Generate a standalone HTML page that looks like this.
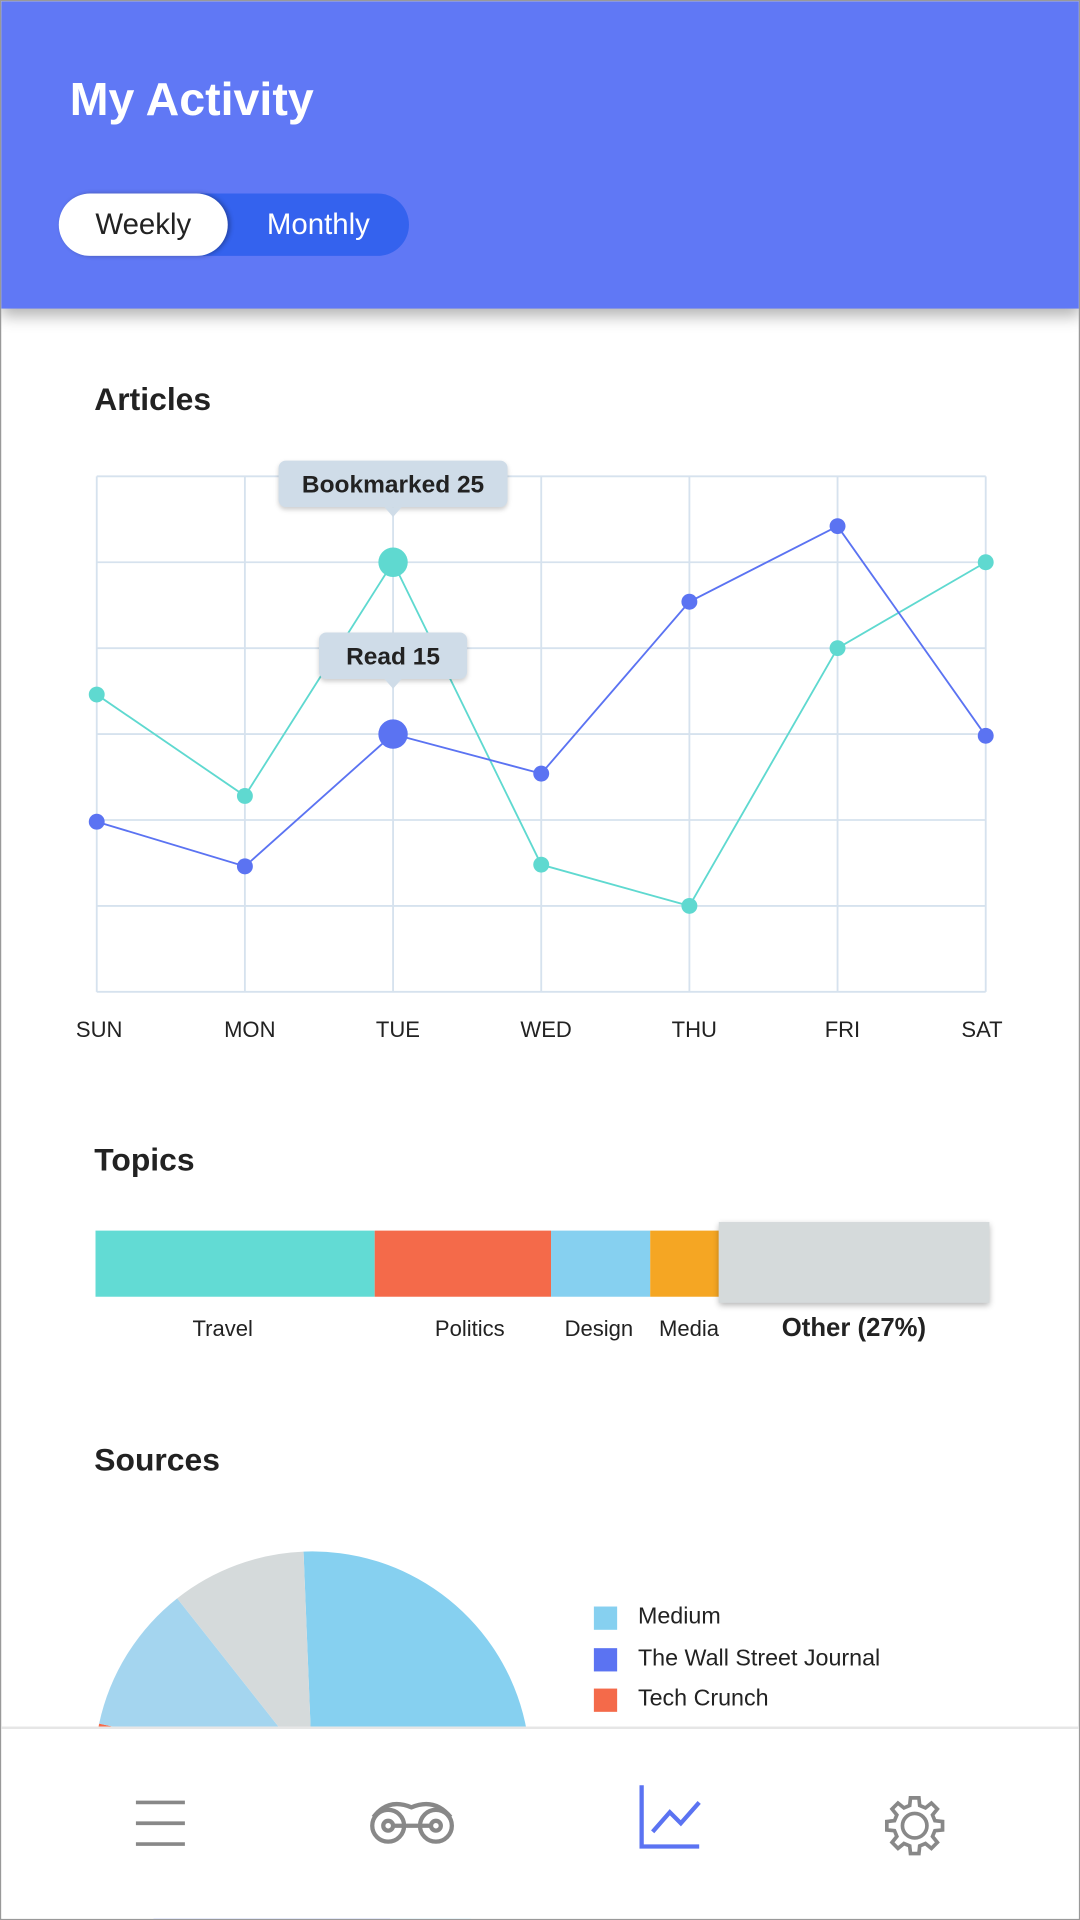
<!DOCTYPE html>
<html><head><meta charset="utf-8"><style>
html,body{margin:0;padding:0;width:1080px;height:1920px;overflow:hidden;background:#fff;font-family:"Liberation Sans",sans-serif}
#wrap{position:absolute;left:0;top:0;width:882px;height:1568px;transform:scale(1.22449);transform-origin:0 0;background:#fff;overflow:hidden;box-sizing:border-box;border:1px solid #999}
.hdr{position:absolute;left:0;top:0;width:882px;height:251px;background:#6078f5;box-shadow:0 6px 12px rgba(0,0,0,.3);z-index:2}
.title{position:absolute;left:56px;top:60px;color:#fff;font-size:38px;font-weight:bold}
.tog{position:absolute;left:47px;top:157px;width:286px;height:51px;border-radius:26px;background:#3462ee}
.tog .on{position:absolute;left:0;top:0;width:138px;height:51px;border-radius:26px;background:#fff;color:#222;font-size:24px;line-height:51px;text-align:center;box-shadow:2px 0 4px rgba(0,0,0,.3)}
.tog .off{position:absolute;left:138px;top:0;width:148px;height:51px;color:#fff;font-size:24px;line-height:51px;text-align:center}
.h2{position:absolute;left:76px;font-size:26px;color:#222;font-weight:bold}
.lbl{position:absolute;font-size:18px;color:#222;transform:translateX(-50%);white-space:nowrap}
.nav{position:absolute;left:0;top:1409px;width:882px;height:160px;background:#fff;border-top:2px solid #e6e6e6;z-index:3}
</style></head><body>
<div id="wrap">
<div class="hdr">
 <div class="title">My Activity</div>
 <div class="tog">
  <div class="on">Weekly</div>
  <div class="off">Monthly</div>
 </div>
</div>
<div class="h2" style="top:310px">Articles</div>
<svg id="lc" style="position:absolute;left:0;top:0" width="882" height="880"></svg>
<div class="h2" style="top:931px">Topics</div>
<div id="topics"></div>
<div class="h2" style="top:1176px">Sources</div>
<svg id="pie" style="position:absolute;left:0;top:0" width="882" height="1568"></svg>
<div id="legend"></div>
<div class="nav">
 <svg width="882" height="160">
  <g stroke="#888" stroke-width="3"><line x1="110" y1="60" x2="150" y2="60"/><line x1="110" y1="77" x2="150" y2="77"/><line x1="110" y1="94" x2="150" y2="94"/></g>
  <g stroke="#888" stroke-width="3.5" fill="none"><circle cx="316" cy="79" r="13"/><circle cx="355" cy="79" r="13"/><circle cx="316" cy="79" r="4"/><circle cx="355" cy="79" r="4"/><line x1="321" y1="79" x2="350" y2="79"/><path d="M304 72 Q316 56 335 64 Q354 56 367 72"/></g>
  <g stroke="#5b73f2" stroke-width="3.5" fill="none"><path d="M523 46 V96 H570"/><path d="M532 84 L546 68 L555 77 L570 60"/></g>
  <g stroke="#888" stroke-width="3" fill="none"><circle cx="746" cy="79" r="10"/><path id="gear"/></g>
 </svg>
</div>
</div>
<script>
const days=["SUN","MON","TUE","WED","THU","FRI","SAT"];
const bookmarked=[17.3,11.4,25,7.4,5,20,25];
const read=[9.9,7.3,15,12.7,22.7,27.1,14.9];
const yMax=30, yStep=5;
const topicNames=["Travel","Politics","Design","Media","Other (27%)"];
const topicValues=[31.2,19.7,11.1,7.7,30.3];
const sourceNames=["Medium","The Wall Street Journal","Tech Crunch","Other Light","Other"];
const sourceValues=[43,22,14,11,10];
const NS="http://www.w3.org/2000/svg";
function mk(p,t,a){const e=document.createElementNS(NS,t);for(const k in a)e.setAttribute(k,a[k]);p.appendChild(e);return e;}
const X0=78,X1=804,Y0=809,Y1=388;
const xs=i=>X0+(X1-X0)*i/(days.length-1);
const ys=v=>Y0-(Y0-Y1)*v/yMax;
const lc=document.getElementById('lc');
for(let v=0;v<=yMax;v+=yStep){const l=mk(lc,'line',{x1:X0,x2:X1,y1:ys(v),y2:ys(v),stroke:'#d6e2ee','stroke-width':1.5});

}
days.forEach((d,i)=>{const l=mk(lc,'line',{x1:xs(i),x2:xs(i),y1:Y1,y2:Y0,stroke:'#d6e2ee','stroke-width':1.5});


const t=mk(lc,'text',{x:xs(i)+(i==0?2:i==6?-3:4),y:846,'font-size':18,'text-anchor':'middle',fill:'#222','font-family':'Liberation Sans'});t.textContent=d;

});
function series(vals,col,name,hi){
 const p=mk(lc,'polyline',{points:vals.map((v,i)=>xs(i)+','+ys(v)).join(' '),fill:'none',stroke:col,'stroke-width':1.5});
 
 
 vals.forEach((v,i)=>{const c=mk(lc,'circle',{cx:xs(i),cy:ys(v),r:i==hi?12:6.5,fill:col});
 
 });
}
series(bookmarked,'#5fd9d0','bookmarked',2);
series(read,'#5b73f2','read',2);
function tip(i,v,txt,w,name){const cx=xs(i),y=ys(v);const g=mk(lc,'g',{});
 
 
 mk(g,'rect',{x:cx-w/2,y:y-83,width:w,height:38,rx:6,fill:'#cfdce8',style:'filter:drop-shadow(0 2px 2px rgba(0,0,0,.2))'});
 mk(g,'path',{d:`M${cx-7} ${y-45} L${cx} ${y-37} L${cx+7} ${y-45}Z`,fill:'#cfdce8'});
 const t=mk(g,'text',{x:cx,y:y-57,'text-anchor':'middle','font-size':20,'font-weight':'bold',fill:'#222','font-family':'Liberation Sans'});t.textContent=txt;}
tip(2,bookmarked[2],'Bookmarked '+bookmarked[2],187,'bookmarked-tooltip');
tip(2,read[2],'Read '+read[2],121,'read-tooltip');
const tc=["#62dbd4","#f46a4a","#86d0f0","#f5a623","#d5dadb"];
const tp=document.getElementById('topics');const tot=topicValues.reduce((a,b)=>a+b,0);let x=77;const W=730;
topicValues.forEach((v,i)=>{const w=W*v/tot;const d=document.createElement('div');
 const last=i==topicValues.length-1;
 d.style.cssText=`position:absolute;left:${x}px;top:${last?997:1004}px;width:${w}px;height:${last?66:54}px;background:${tc[i]};${last?'box-shadow:0 2px 5px rgba(0,0,0,.3)':''}`;
 
 
 tp.appendChild(d);
 const l=document.createElement('div');l.className='lbl';l.textContent=topicNames[i];
 l.style.left=(x+w/2+(i==0?-10:i==1?6:i==2?-1:i==3?4:0))+'px';l.style.top=(last?1072:1074)+'px';
 if(last){l.style.fontSize='21px';l.style.fontWeight='bold';l.style.color='#222';}
 
 
 tp.appendChild(l);x+=w;});
const pc=["#86d0f0","#5b73f2","#f46a4a","#a4d5ef","#d5dadb"];
const pie=document.getElementById('pie');const cx=254,cy=1444,r=178;const ps=sourceValues.reduce((a,b)=>a+b,0);let a=-0.04;
sourceValues.forEach((v,i)=>{const b=a+2*Math.PI*v/ps;
 const p=mk(pie,'path',{d:`M${cx} ${cy} L${cx+r*Math.sin(a)} ${cy-r*Math.cos(a)} A${r} ${r} 0 ${b-a>Math.PI?1:0} 1 ${cx+r*Math.sin(b)} ${cy-r*Math.cos(b)}Z`,fill:pc[i]});
 
 
 a=b;});
const lg=document.getElementById('legend');
for(let i=0;i<3;i++){const s=document.createElement('div');s.style.cssText=`position:absolute;left:484px;top:${1311+i*33.5}px;width:19px;height:19px;background:${pc[i]}`;
 
 
 lg.appendChild(s);
 const t=document.createElement('div');t.style.cssText=`position:absolute;left:520px;top:${1309+i*33.5}px;font-size:19px;color:#222`;t.textContent=sourceNames[i];
 
 
 lg.appendChild(t);}
const g=document.getElementById('gear');let pts=[];for(let k=0;k<16;k++){const an=k*Math.PI/8;const rr=(k%2==0)?23:17;pts.push((746+rr*Math.cos(an-0.15))+','+(79+rr*Math.sin(an-0.15)));pts.push((746+rr*Math.cos(an+0.15))+','+(79+rr*Math.sin(an+0.15)));}
g.setAttribute('d','M'+pts.join(' L')+'Z');
</script>
</body></html>
